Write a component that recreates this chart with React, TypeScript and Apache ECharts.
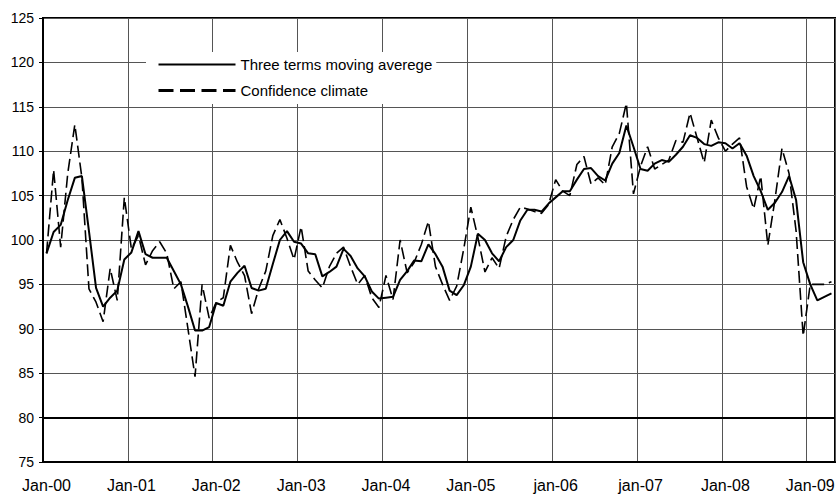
import React, { useEffect, useRef } from "react";
import * as echarts from "echarts";

const FONT = "'Liberation Sans', Arial, Helvetica, sans-serif";

const yearLabels = ["Jan-00", "Jan-01", "Jan-02", "Jan-03", "Jan-04", "Jan-05", "jan-06", "jan-07", "Jan-08", "Jan-09"];
const monthNames = ["Jan", "Feb", "Mar", "Apr", "May", "Jun", "Jul", "Aug", "Sep", "Oct", "Nov", "Dec"];
const monthCount = 112;

const movingAverage = [
  98.5, 100.9, 101.7, 104.5, 107.0, 107.2, 101.0, 94.6, 92.5, 93.5, 94.3, 97.8,
  98.6, 101.0, 98.4, 98.0, 98.0, 98.0, 96.5, 95.0, 92.5, 89.8, 89.8, 90.2,
  92.9, 92.6, 95.3, 96.3, 97.1, 94.6, 94.3, 94.5, 97.3, 100.0, 101.0, 99.8,
  99.6, 98.5, 98.4, 95.9, 96.4, 97.0, 99.0, 98.2, 96.8, 95.9, 94.2, 93.4,
  93.5, 93.6, 95.5, 96.5, 97.7, 97.6, 99.5, 98.4, 97.0, 94.3, 93.8, 94.9,
  97.0, 100.7, 100.0, 98.5, 97.6, 99.2, 100.0, 102.2, 103.4, 103.4, 103.2, 104.1,
  104.8, 105.5, 105.5, 106.8, 108.0, 108.1, 107.2, 106.7, 108.6, 109.8, 112.9, 110.5,
  108.0, 107.8, 108.6, 109.0, 108.8, 109.6, 110.5, 111.8, 111.5, 110.8, 110.6, 111.0,
  110.9, 110.3, 110.9, 109.5, 107.2, 105.5, 103.4, 104.2, 105.4, 107.2, 104.5, 97.5,
  95.0, 93.2, 93.6, 94.0,
];

const confidenceClimate = [
  98.5, 107.9, 99.2, 107.5, 113.0, 107.0, 94.5, 93.0, 90.8, 96.8, 93.2, 104.8,
  99.0, 100.5, 97.2, 98.8, 99.8, 98.5, 94.5, 95.3, 90.0, 84.6, 95.0, 91.2,
  93.0, 93.5, 99.4, 97.5, 96.0, 91.7, 94.5, 96.5, 100.5, 102.3, 100.2, 97.8,
  101.5, 96.5, 95.5, 94.6, 97.0, 98.5, 99.2, 97.0, 95.0, 96.0, 93.5, 92.4,
  96.0, 93.3, 100.0, 96.3, 97.5, 99.5, 102.1, 97.0, 95.0, 93.2, 94.8, 99.0,
  103.7, 100.3, 96.4, 98.0, 96.8, 100.4, 102.3, 103.7, 103.5, 103.2, 103.0, 104.0,
  106.8, 105.5, 105.0, 108.5, 109.4, 106.3, 107.0, 106.2, 110.5, 112.0, 115.4, 105.2,
  108.3, 110.5, 108.0, 108.5, 109.0, 111.2, 111.0, 114.3, 111.5, 108.7, 113.5, 111.5,
  110.0, 110.8, 111.5, 106.0, 103.5, 107.2, 99.4, 104.5, 110.3, 107.5, 101.0, 89.2,
  95.0, 95.0, 95.0, 95.3,
];

const seriesNames = ["Three terms moving averege", "Confidence climate"];

const categories: string[] = [];
for (let i = 0; i < monthCount; i++) {
  const y = Math.floor(i / 12);
  const m = i % 12;
  categories.push(m === 0 ? yearLabels[y] : `${monthNames[m]}-${String(y).padStart(2, "0")}`);
}

const hiddenSymbol = { color: "rgba(0,0,0,0)", borderColor: "rgba(0,0,0,0)", borderWidth: 0, opacity: 0 };

export default function App() {
  const ref = useRef<HTMLDivElement>(null);

  useEffect(() => {
    if (!ref.current) return;
    const chart = echarts.init(ref.current, undefined, { renderer: "svg" });
    chart.setOption({
      animation: false,
      backgroundColor: "#ffffff",
      textStyle: { fontFamily: FONT },
      grid: {
        left: 43,
        right: 5,
        top: 18,
        bottom: 33,
        show: true,
        borderColor: "#000",
        borderWidth: 2,
        backgroundColor: "transparent",
      },
      legend: {
        left: 146,
        top: 52,
        orient: "vertical",
        backgroundColor: "#ffffff",
        padding: [5, 4, 6, 11],
        itemWidth: 77,
        itemHeight: 14,
        itemGap: 11,
        selectedMode: false,
        textStyle: { fontSize: 15, color: "#000", fontFamily: FONT },
        data: [
          { name: seriesNames[0], itemStyle: hiddenSymbol, lineStyle: { width: 2, color: "#000", type: "solid" } },
          { name: seriesNames[1], itemStyle: hiddenSymbol, lineStyle: { width: 3, color: "#000", type: [15, 6.5] } },
        ],
      },
      xAxis: {
        type: "category",
        data: categories,
        boundaryGap: true,
        axisLine: { show: true, lineStyle: { color: "#000", width: 2 } },
        axisTick: { show: false, interval: 11 },
        axisLabel: { interval: 11, fontSize: 16, color: "#000", margin: 15, fontFamily: FONT },
        splitLine: { show: true, interval: 11, lineStyle: { color: "#555", width: 1 } },
      },
      yAxis: {
        type: "value",
        min: 75,
        max: 125,
        interval: 5,
        axisLine: { show: true, lineStyle: { color: "#000", width: 2 } },
        axisTick: { show: true, length: 4, lineStyle: { color: "#000", width: 1 } },
        axisLabel: { fontSize: 14, color: "#000", margin: 9, fontFamily: FONT },
        splitLine: { show: true, lineStyle: { color: "#555", width: 1 } },
      },
      series: [
        {
          name: seriesNames[0],
          type: "line",
          data: movingAverage,
          symbol: "none",
          z: 3,
          lineStyle: { color: "#000", width: 2 },
          itemStyle: { color: "#000" },
          markLine: {
            silent: true,
            symbol: "none",
            label: { show: false },
            lineStyle: { color: "#000", width: 2, type: "solid" },
            data: [{ yAxis: 80 }],
          },
        },
        {
          name: seriesNames[1],
          type: "line",
          data: confidenceClimate,
          symbol: "none",
          z: 2,
          lineStyle: { color: "#000", width: 1.6, type: [12, 5] },
          itemStyle: { color: "#000" },
        },
      ],
    });
    return () => chart.dispose();
  }, []);

  return (
    <div
      ref={ref}
      style={{ position: "absolute", left: 0, top: 0, width: 840, height: 495, background: "#fff" }}
    />
  );
}
